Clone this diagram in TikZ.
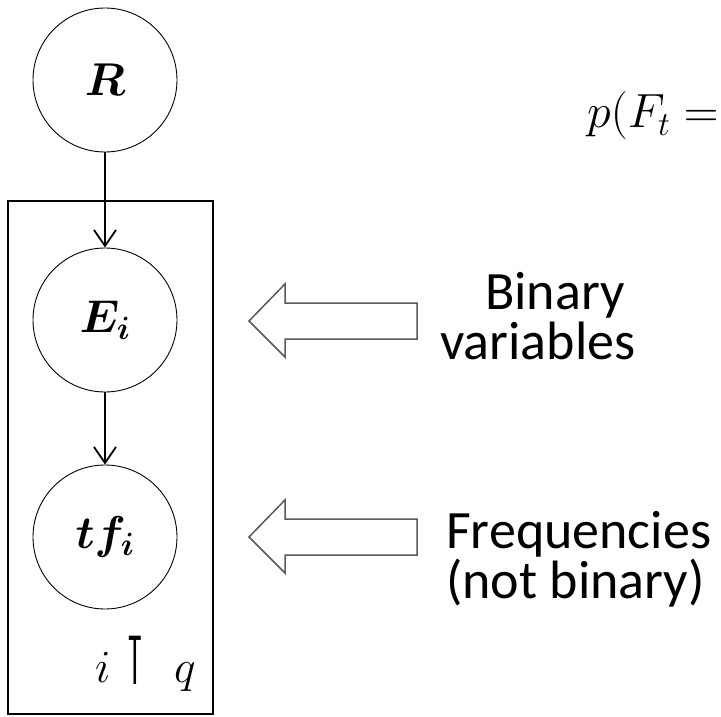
\RequirePackage{fix-cm}
\documentclass[tikz,border=0pt]{standalone}
\usepackage{amsmath}
\usepackage{fontspec}
\setmainfont{Carlito}
\newfontfamily\symfont{DejaVu Sans}
\usetikzlibrary{arrows.meta}
\tikzset{
  var/.style={circle, draw, line width=0.9pt, minimum size=144pt, inner sep=0pt,
    font=\fontsize{46}{50}\selectfont},
  edge/.style={line width=1.8pt, -{Straight Barb[length=16pt,width=22pt,line width=1.8pt]}},
  plate/.style={draw, line width=1.8pt},
  hollow/.style={draw=black!65, line width=1.5pt, line join=miter, fill=white},
  caption/.style={font=\fontsize{54}{50}\selectfont, align=left, inner sep=0pt, anchor=north west}
}
\begin{document}
\begin{tikzpicture}[x=1pt, y=-1pt]
  \useasboundingbox (0,0) rectangle (721,717);
  \clip (0,0) rectangle (721,717);

  % plate
  \draw[plate] (8,201) rectangle (213,714);

  % variables
  \node[var] (R)  at (105,80)  {$\boldsymbol{R}$};
  \node[var] (E)  at (105,320) {$\boldsymbol{E_i}$};
  \node[var] (tf) at (105,537) {$\boldsymbol{tf_i}$};

  \draw[edge] (R) -- (E);
  \draw[edge] (E) -- (tf);

  % plate index
  \node[font=\fontsize{46}{50}\selectfont, anchor=base west, inner sep=0pt] (idx) at (95,682)
    {$i$\hspace{14pt}\raisebox{-2pt}{\scalebox{0.9}[1.5]{\symfont ⊺}}\hspace{28pt}$q$};

  % hollow arrows
  \draw[hollow] (249,321) -- (285,284) -- (285,303) -- (417,303) -- (417,339)
    -- (285,339) -- (285,357) -- cycle;
  \draw[hollow] (249,537) -- (285,500) -- (285,519) -- (417,519) -- (417,555)
    -- (285,555) -- (285,573) -- cycle;

  % captions
  \node[caption] (bin) at (440,272) {\hspace*{45pt}Binary\\variables};
  \node[caption] (freq) at (446,511) {Frequencies\\(not binary)};

  % formula, running off the right edge
  \node[font=\fontsize{48}{52}\selectfont, anchor=base west, inner sep=0pt] (pf) at (587,128)
    {$p(F_t =$};
\end{tikzpicture}
\end{document}
